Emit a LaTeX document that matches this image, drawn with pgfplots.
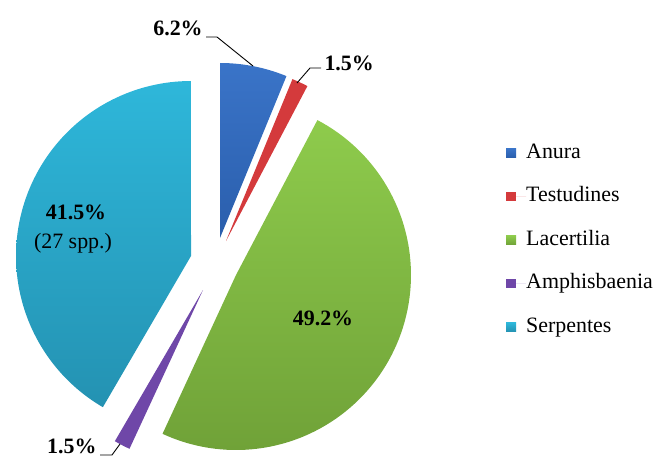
\documentclass[border=0pt]{standalone}
\usepackage{pgfplots}
\pgfplotsset{compat=1.18}
\usepackage{pgfplotstable}
\usepackage{fontspec}
\setmainfont{Liberation Serif}

\definecolor{cAnuraT}{RGB}{58,116,200}
\definecolor{cAnuraB}{RGB}{42,94,172}
\definecolor{cTest}{RGB}{212,58,60}
\definecolor{cLacT}{RGB}{142,203,76}
\definecolor{cLacB}{RGB}{112,162,56}
\definecolor{cAmph}{RGB}{111,71,168}
\definecolor{cSerT}{RGB}{46,183,218}
\definecolor{cSerB}{RGB}{36,146,178}

% percentages and the (exploded) apex of each slice, in picture units
\pgfplotstableread{
name pct ax ay
Anura 6.2 220 238
Testudines 1.5 226 241
Lacertilia 49.2 236 275
Amphisbaenia 1.5 203 290
Serpentes 41.5 191 256
}\slicedata

\def\R{175}
\newcommand\getrow[2]{%
  \pgfplotstablegetelem{#1}{pct}\of\slicedata\expandafter\let\csname p#2\endcsname\pgfplotsretval
  \pgfplotstablegetelem{#1}{ax}\of\slicedata\expandafter\let\csname x#2\endcsname\pgfplotsretval
  \pgfplotstablegetelem{#1}{ay}\of\slicedata\expandafter\let\csname y#2\endcsname\pgfplotsretval}
\getrow{0}{A}\getrow{1}{B}\getrow{2}{C}\getrow{3}{D}\getrow{4}{E}
\pgfmathsetmacro\aA{0}
\pgfmathsetmacro\aB{\aA+\pA*3.6}
\pgfmathsetmacro\aC{\aB+\pB*3.6}
\pgfmathsetmacro\aD{\aC+\pC*3.6}
\pgfmathsetmacro\aE{\aD+\pD*3.6}
\pgfmathsetmacro\aF{360}

\begin{document}
\begin{tikzpicture}
\begin{axis}[
  width=671bp, height=459bp, scale only axis,
  xmin=0, xmax=671, ymin=0, ymax=459, y dir=reverse,
  hide axis, clip=false,
  samples=90,
  legend style={at={(axis cs:506,143)}, anchor=north west, draw=none, fill=none,
    inner sep=0pt, row sep=23.5bp, column sep=0pt,
    nodes={inner sep=0pt, text height=15bp, text depth=5bp, anchor=west,
      font=\fontsize{22}{24}\selectfont}},
  legend cell align=left,
  legend image code/.code={\path[#1,draw=none] (0bp,-4.5bp) rectangle (10bp,4.5bp);
     \path (0bp,0bp) -- (20bp,0bp);},
]
\addplot[draw=none, top color=cAnuraT, bottom color=cAnuraB, domain=\aA:\aB]
  ({\xA + \R*sin(x)}, {\yA - \R*cos(x)}) -- (\xA,\yA) -- cycle;
\addlegendentry{Anura}
\addplot[draw=none, fill=cTest, domain=\aB:\aC]
  ({\xB + \R*sin(x)}, {\yB - \R*cos(x)}) -- (\xB,\yB) -- cycle;
\addlegendentry{Testudines}
\addplot[draw=none, top color=cLacT, bottom color=cLacB, domain=\aC:\aD]
  ({\xC + \R*sin(x)}, {\yC - \R*cos(x)}) -- (\xC,\yC) -- cycle;
\addlegendentry{Lacertilia}
\addplot[draw=none, fill=cAmph, domain=\aD:\aE]
  ({\xD + \R*sin(x)}, {\yD - \R*cos(x)}) -- (\xD,\yD) -- cycle;
\addlegendentry{Amphisbaenia}
\addplot[draw=none, top color=cSerT, bottom color=cSerB, domain=\aE:\aF]
  ({\xE + \R*sin(x)}, {\yE - \R*cos(x)}) -- (\xE,\yE) -- cycle;
\addlegendentry{Serpentes}

\path (0,0) rectangle (671,459);
% labels
\def\lf{\fontsize{22}{24}\selectfont}
\node[font=\lf\bfseries] at (178,28) {6.2\%};
\draw[line width=0.9pt] (206,37) -- (217,37) -- (253,66);
\node[font=\lf\bfseries, anchor=west] at (321,63) {1.5\%};
\draw[line width=0.9pt] (297,83) -- (310,68) -- (321,68);
\node[font=\lf\bfseries] at (323,318) {49.2\%};
\node[font=\lf\bfseries] at (76,212) {41.5\%};
\node[font=\lf] at (73,243) {(27 spp.)};
\node[font=\lf\bfseries, anchor=east] at (100,446) {1.5\%};
\draw[line width=0.9pt] (100,455) -- (112,455) -- (120,444);
\end{axis}
\end{tikzpicture}
\end{document}
